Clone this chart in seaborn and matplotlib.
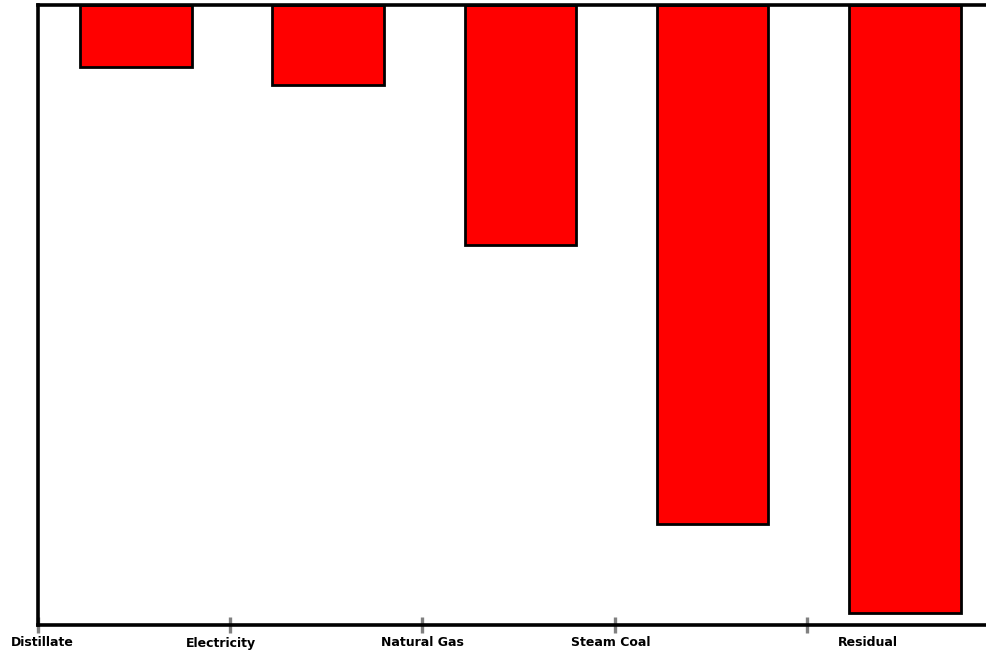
import matplotlib
matplotlib.use("Agg")
import matplotlib.pyplot as plt
import matplotlib.transforms as mtransforms
import seaborn as sns
import pandas as pd

categories = ["Distillate", "Electricity", "Natural Gas", "Steam Coal", "Residual"]
values = [-1.0, -1.29, -3.87, -8.37, -9.81]

sns.set_style("white")
plt.rcParams['font.family'] = ['DejaVu Sans']

df = pd.DataFrame({"category": categories, "value": values})

fig = plt.figure(figsize=(9.87, 6.5), dpi=100)
ax = fig.add_axes([38/987, 25/650, 961/987, 620/650])

sns.barplot(data=df, x="category", y="value", color="#ff0000", saturation=1,
            edgecolor="black", linewidth=2, width=0.58, ax=ax)

ax.set_xlim(-0.51, 4.49)
ax.set_ylim(-10, 0)
ax.set_xlabel("")
ax.set_ylabel("")
ax.set_yticks([])

for s in ["left", "top", "bottom"]:
    ax.spines[s].set_visible(True)
    ax.spines[s].set_color("black")
    ax.spines[s].set_linewidth(2.6)
ax.spines["right"].set_visible(False)

boundaries = [-0.51, 0.49, 1.49, 2.49, 3.49]
ax.set_xticks(boundaries)
ax.set_xticklabels([""] * len(boundaries))
ax.tick_params(axis="x", direction="inout", length=12, width=2.4, color="#808080", bottom=True)

label_pos = [-0.49, 0.44, 1.49, 2.47, 3.81]
trans = mtransforms.blended_transform_factory(ax.transData, fig.transFigure)
for pos, lab in zip(label_pos, categories):
    fig.text(pos, 1 - 643/650, lab, transform=trans, ha="center", va="center",
             fontsize=9, fontweight="bold", color="black")

fig.savefig("out.png", dpi=100)
